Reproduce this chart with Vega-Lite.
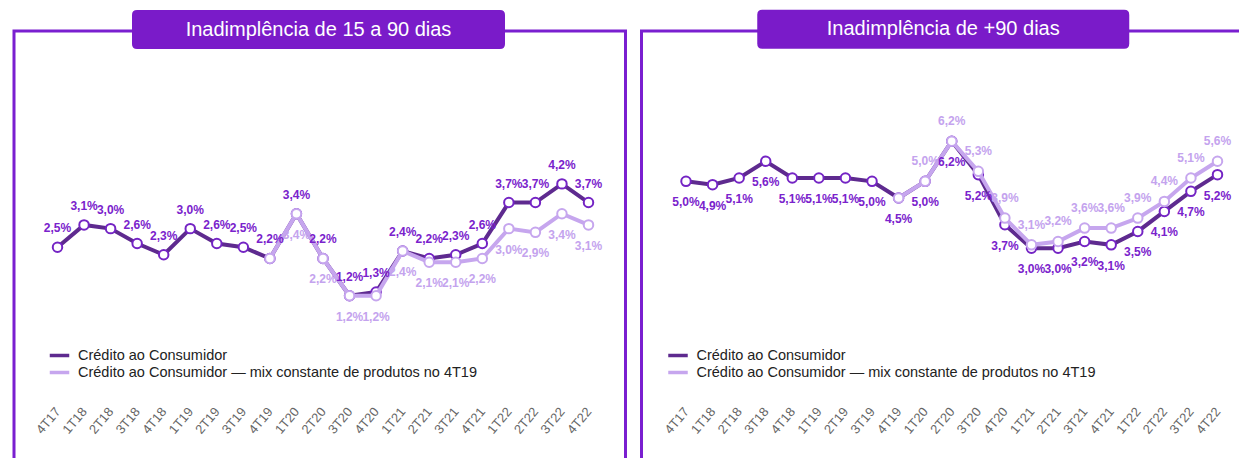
{
  "$schema": "https://vega.github.io/schema/vega-lite/v6.json",
  "padding": {"left": 12, "top": 8, "right": 0, "bottom": 0},
  "background": "white",
  "config": {
    "font": "Liberation Sans",
    "view": {"stroke": "#7A1FD0", "strokeWidth": 3},
    "locale": {"number": {"decimal": ",", "thousands": ".", "grouping": [3], "currency": ["R$", ""]}}
  },
  "resolve": {"scale": {"color": "independent", "stroke": "independent"}, "legend": {"color": "independent"}},
  "spacing": 12.5,
  "datasets": {
    "d": [
      {"panel": "A", "serie": "Crédito ao Consumidor", "quarter": "4T17", "value": 0.025},
      {"panel": "A", "serie": "Crédito ao Consumidor", "quarter": "1T18", "value": 0.031},
      {"panel": "A", "serie": "Crédito ao Consumidor", "quarter": "2T18", "value": 0.030},
      {"panel": "A", "serie": "Crédito ao Consumidor", "quarter": "3T18", "value": 0.026},
      {"panel": "A", "serie": "Crédito ao Consumidor", "quarter": "4T18", "value": 0.023},
      {"panel": "A", "serie": "Crédito ao Consumidor", "quarter": "1T19", "value": 0.030},
      {"panel": "A", "serie": "Crédito ao Consumidor", "quarter": "2T19", "value": 0.026},
      {"panel": "A", "serie": "Crédito ao Consumidor", "quarter": "3T19", "value": 0.025},
      {"panel": "A", "serie": "Crédito ao Consumidor", "quarter": "4T19", "value": 0.022},
      {"panel": "A", "serie": "Crédito ao Consumidor", "quarter": "1T20", "value": 0.034},
      {"panel": "A", "serie": "Crédito ao Consumidor", "quarter": "2T20", "value": 0.022},
      {"panel": "A", "serie": "Crédito ao Consumidor", "quarter": "3T20", "value": 0.012},
      {"panel": "A", "serie": "Crédito ao Consumidor", "quarter": "4T20", "value": 0.013},
      {"panel": "A", "serie": "Crédito ao Consumidor", "quarter": "1T21", "value": 0.024},
      {"panel": "A", "serie": "Crédito ao Consumidor", "quarter": "2T21", "value": 0.022},
      {"panel": "A", "serie": "Crédito ao Consumidor", "quarter": "3T21", "value": 0.023},
      {"panel": "A", "serie": "Crédito ao Consumidor", "quarter": "4T21", "value": 0.026},
      {"panel": "A", "serie": "Crédito ao Consumidor", "quarter": "1T22", "value": 0.037},
      {"panel": "A", "serie": "Crédito ao Consumidor", "quarter": "2T22", "value": 0.037},
      {"panel": "A", "serie": "Crédito ao Consumidor", "quarter": "3T22", "value": 0.042},
      {"panel": "A", "serie": "Crédito ao Consumidor", "quarter": "4T22", "value": 0.037},
      {"panel": "A", "serie": "Crédito ao Consumidor — mix constante de produtos no 4T19", "quarter": "4T19", "value": 0.022},
      {"panel": "A", "serie": "Crédito ao Consumidor — mix constante de produtos no 4T19", "quarter": "1T20", "value": 0.034},
      {"panel": "A", "serie": "Crédito ao Consumidor — mix constante de produtos no 4T19", "quarter": "2T20", "value": 0.022},
      {"panel": "A", "serie": "Crédito ao Consumidor — mix constante de produtos no 4T19", "quarter": "3T20", "value": 0.012},
      {"panel": "A", "serie": "Crédito ao Consumidor — mix constante de produtos no 4T19", "quarter": "4T20", "value": 0.012},
      {"panel": "A", "serie": "Crédito ao Consumidor — mix constante de produtos no 4T19", "quarter": "1T21", "value": 0.024},
      {"panel": "A", "serie": "Crédito ao Consumidor — mix constante de produtos no 4T19", "quarter": "2T21", "value": 0.021},
      {"panel": "A", "serie": "Crédito ao Consumidor — mix constante de produtos no 4T19", "quarter": "3T21", "value": 0.021},
      {"panel": "A", "serie": "Crédito ao Consumidor — mix constante de produtos no 4T19", "quarter": "4T21", "value": 0.022},
      {"panel": "A", "serie": "Crédito ao Consumidor — mix constante de produtos no 4T19", "quarter": "1T22", "value": 0.030},
      {"panel": "A", "serie": "Crédito ao Consumidor — mix constante de produtos no 4T19", "quarter": "2T22", "value": 0.029},
      {"panel": "A", "serie": "Crédito ao Consumidor — mix constante de produtos no 4T19", "quarter": "3T22", "value": 0.034},
      {"panel": "A", "serie": "Crédito ao Consumidor — mix constante de produtos no 4T19", "quarter": "4T22", "value": 0.031},
      {"panel": "B", "serie": "Crédito ao Consumidor", "quarter": "4T17", "value": 0.050},
      {"panel": "B", "serie": "Crédito ao Consumidor", "quarter": "1T18", "value": 0.049},
      {"panel": "B", "serie": "Crédito ao Consumidor", "quarter": "2T18", "value": 0.051},
      {"panel": "B", "serie": "Crédito ao Consumidor", "quarter": "3T18", "value": 0.056},
      {"panel": "B", "serie": "Crédito ao Consumidor", "quarter": "4T18", "value": 0.051},
      {"panel": "B", "serie": "Crédito ao Consumidor", "quarter": "1T19", "value": 0.051},
      {"panel": "B", "serie": "Crédito ao Consumidor", "quarter": "2T19", "value": 0.051},
      {"panel": "B", "serie": "Crédito ao Consumidor", "quarter": "3T19", "value": 0.050},
      {"panel": "B", "serie": "Crédito ao Consumidor", "quarter": "4T19", "value": 0.045},
      {"panel": "B", "serie": "Crédito ao Consumidor", "quarter": "1T20", "value": 0.050},
      {"panel": "B", "serie": "Crédito ao Consumidor", "quarter": "2T20", "value": 0.062},
      {"panel": "B", "serie": "Crédito ao Consumidor", "quarter": "3T20", "value": 0.052},
      {"panel": "B", "serie": "Crédito ao Consumidor", "quarter": "4T20", "value": 0.037},
      {"panel": "B", "serie": "Crédito ao Consumidor", "quarter": "1T21", "value": 0.030},
      {"panel": "B", "serie": "Crédito ao Consumidor", "quarter": "2T21", "value": 0.030},
      {"panel": "B", "serie": "Crédito ao Consumidor", "quarter": "3T21", "value": 0.032},
      {"panel": "B", "serie": "Crédito ao Consumidor", "quarter": "4T21", "value": 0.031},
      {"panel": "B", "serie": "Crédito ao Consumidor", "quarter": "1T22", "value": 0.035},
      {"panel": "B", "serie": "Crédito ao Consumidor", "quarter": "2T22", "value": 0.041},
      {"panel": "B", "serie": "Crédito ao Consumidor", "quarter": "3T22", "value": 0.047},
      {"panel": "B", "serie": "Crédito ao Consumidor", "quarter": "4T22", "value": 0.052},
      {"panel": "B", "serie": "Crédito ao Consumidor — mix constante de produtos no 4T19", "quarter": "4T19", "value": 0.045},
      {"panel": "B", "serie": "Crédito ao Consumidor — mix constante de produtos no 4T19", "quarter": "1T20", "value": 0.050},
      {"panel": "B", "serie": "Crédito ao Consumidor — mix constante de produtos no 4T19", "quarter": "2T20", "value": 0.062},
      {"panel": "B", "serie": "Crédito ao Consumidor — mix constante de produtos no 4T19", "quarter": "3T20", "value": 0.053},
      {"panel": "B", "serie": "Crédito ao Consumidor — mix constante de produtos no 4T19", "quarter": "4T20", "value": 0.039},
      {"panel": "B", "serie": "Crédito ao Consumidor — mix constante de produtos no 4T19", "quarter": "1T21", "value": 0.031},
      {"panel": "B", "serie": "Crédito ao Consumidor — mix constante de produtos no 4T19", "quarter": "2T21", "value": 0.032},
      {"panel": "B", "serie": "Crédito ao Consumidor — mix constante de produtos no 4T19", "quarter": "3T21", "value": 0.036},
      {"panel": "B", "serie": "Crédito ao Consumidor — mix constante de produtos no 4T19", "quarter": "4T21", "value": 0.036},
      {"panel": "B", "serie": "Crédito ao Consumidor — mix constante de produtos no 4T19", "quarter": "1T22", "value": 0.039},
      {"panel": "B", "serie": "Crédito ao Consumidor — mix constante de produtos no 4T19", "quarter": "2T22", "value": 0.044},
      {"panel": "B", "serie": "Crédito ao Consumidor — mix constante de produtos no 4T19", "quarter": "3T22", "value": 0.051},
      {"panel": "B", "serie": "Crédito ao Consumidor — mix constante de produtos no 4T19", "quarter": "4T22", "value": 0.056}
    ]
  },
  "hconcat": [
    {
      "width": 611.5,
      "height": 440,
      "encoding": {
        "x": {
          "field": "quarter", "type": "ordinal",
          "scale": {"type": "point", "padding": 0, "range": [43.5, 574.5],
            "domain": ["4T17","1T18","2T18","3T18","4T18","1T19","2T19","3T19","4T19","1T20","2T20","3T20","4T20","1T21","2T21","3T21","4T21","1T22","2T22","3T22","4T22"]},
          "axis": {"title": null, "labelAngle": -50, "labelAlign": "right", "labelBaseline": "middle", "labelFontSize": 13, "labelColor": "#666666", "domain": false, "ticks": false, "grid": false, "labelPadding": 0, "offset": -62}
        }
      },
      "layer": [
        {
          "data": {"name": "d"},
          "transform": [{"filter": "datum.panel === 'A' && datum.serie === 'Crédito ao Consumidor'"}],
          "mark": {"type": "line", "strokeWidth": 4},
          "encoding": {
            "y": {"field": "value", "type": "quantitative", "scale": {"domain": [-0.035, 0.083], "nice": false, "zero": false}, "axis": null},
            "color": {"field": "serie", "type": "nominal",
              "scale": {"domain": ["Crédito ao Consumidor", "Crédito ao Consumidor — mix constante de produtos no 4T19"], "range": ["#5E2A8F", "#C6A6EE"]},
              "legend": {"title": null, "orient": "none", "legendX": 36, "legendY": 315, "symbolType": "M -1.3 0 L 1.3 0", "symbolSize": 225, "symbolStrokeWidth": 3.5, "labelFontSize": 14.5, "labelColor": "#222222", "rowPadding": 0, "labelOffset": 9, "labelLimit": 600}}
          }
        },
        {
          "data": {"name": "d"},
          "transform": [{"filter": "datum.panel === 'A' && datum.serie === 'Crédito ao Consumidor'"}],
          "mark": {"type": "point", "filled": false, "fill": "white", "strokeWidth": 2, "size": 90, "opacity": 1},
          "encoding": {
            "y": {"field": "value", "type": "quantitative"},
            "stroke": {"field": "serie", "type": "nominal", "scale": {"domain": ["Crédito ao Consumidor", "Crédito ao Consumidor — mix constante de produtos no 4T19"], "range": ["#7424C4", "#C6A6EE"]}, "legend": null}
          }
        },
        {
          "data": {"name": "d"},
          "transform": [{"filter": "datum.panel === 'A' && datum.serie !== 'Crédito ao Consumidor'"}],
          "mark": {"type": "line", "strokeWidth": 4},
          "encoding": {
            "y": {"field": "value", "type": "quantitative"},
            "color": {"field": "serie", "type": "nominal"}
          }
        },
        {
          "data": {"name": "d"},
          "transform": [{"filter": "datum.panel === 'A' && datum.serie !== 'Crédito ao Consumidor'"}],
          "mark": {"type": "point", "filled": false, "fill": "white", "strokeWidth": 2, "size": 90, "opacity": 1},
          "encoding": {
            "y": {"field": "value", "type": "quantitative"},
            "stroke": {"field": "serie", "type": "nominal", "legend": null}
          }
        },
        {
          "data": {"name": "d"},
          "transform": [{"filter": "datum.panel === 'A' && datum.serie === 'Crédito ao Consumidor'"}],
          "mark": {"type": "text", "dy": -19, "fontSize": 12, "fontWeight": "bold", "color": "#7A22CC"},
          "encoding": {
            "y": {"field": "value", "type": "quantitative"},
            "text": {"field": "value", "type": "quantitative", "format": ".1%"}
          }
        },
        {
          "data": {"name": "d"},
          "transform": [{"filter": "datum.panel === 'A' && datum.serie !== 'Crédito ao Consumidor' && datum.quarter !== '4T19'"}],
          "mark": {"type": "text", "dy": 21, "fontSize": 12, "fontWeight": "bold", "color": "#C4A3EE"},
          "encoding": {
            "y": {"field": "value", "type": "quantitative"},
            "text": {"field": "value", "type": "quantitative", "format": ".1%"}
          }
        },
        {
          "data": {"values": [{"t": "Inadimplência de 15 a 90 dias"}]},
          "mark": {"type": "point", "shape": "M -0.9732 -0.1046 L 0.9732 -0.1046 Q 1 -0.1046 1 -0.0778 L 1 0.0778 Q 1 0.1046 0.9732 0.1046 L -0.9732 0.1046 Q -1 0.1046 -1 0.0778 L -1 -0.0778 Q -1 -0.1046 -0.9732 -0.1046 Z", "size": 139129, "filled": true, "color": "#7A1BC9", "opacity": 1, "strokeWidth": 0, "xOffset": -4.5},
          "encoding": {
            "x": {"datum": "2T20"},
            "y": {"datum": 0.0834, "type": "quantitative"}
          }
        },
        {
          "data": {"values": [{"t": "Inadimplência de 15 a 90 dias"}]},
          "mark": {"type": "text", "fontSize": 20, "color": "white", "xOffset": -4.5, "baseline": "middle"},
          "encoding": {
            "x": {"datum": "2T20"},
            "y": {"datum": 0.0834, "type": "quantitative"},
            "text": {"field": "t"}
          }
        }
      ]
    },
    {
      "width": 611.5,
      "height": 440,
      "encoding": {
        "x": {
          "field": "quarter", "type": "ordinal",
          "scale": {"type": "point", "padding": 0, "range": [44.5, 576],
            "domain": ["4T17","1T18","2T18","3T18","4T18","1T19","2T19","3T19","4T19","1T20","2T20","3T20","4T20","1T21","2T21","3T21","4T21","1T22","2T22","3T22","4T22"]},
          "axis": {"title": null, "labelAngle": -50, "labelAlign": "right", "labelBaseline": "middle", "labelFontSize": 13, "labelColor": "#666666", "domain": false, "ticks": false, "grid": false, "labelPadding": 0, "offset": -62}
        }
      },
      "layer": [
        {
          "data": {"name": "d"},
          "transform": [{"filter": "datum.panel === 'B' && datum.serie === 'Crédito ao Consumidor'"}],
          "mark": {"type": "line", "strokeWidth": 4},
          "encoding": {
            "y": {"field": "value", "type": "quantitative", "scale": {"domain": [-0.0367, 0.095], "nice": false, "zero": false}, "axis": null},
            "color": {"field": "serie", "type": "nominal",
              "scale": {"domain": ["Crédito ao Consumidor", "Crédito ao Consumidor — mix constante de produtos no 4T19"], "range": ["#5E2A8F", "#C6A6EE"]},
              "legend": {"title": null, "orient": "none", "legendX": 27, "legendY": 315, "symbolType": "M -1.3 0 L 1.3 0", "symbolSize": 225, "symbolStrokeWidth": 3.5, "labelFontSize": 14.5, "labelColor": "#222222", "rowPadding": 0, "labelOffset": 9, "labelLimit": 600}}
          }
        },
        {
          "data": {"name": "d"},
          "transform": [{"filter": "datum.panel === 'B' && datum.serie === 'Crédito ao Consumidor'"}],
          "mark": {"type": "point", "filled": false, "fill": "white", "strokeWidth": 2, "size": 90, "opacity": 1},
          "encoding": {
            "y": {"field": "value", "type": "quantitative"},
            "stroke": {"field": "serie", "type": "nominal", "scale": {"domain": ["Crédito ao Consumidor", "Crédito ao Consumidor — mix constante de produtos no 4T19"], "range": ["#7424C4", "#C6A6EE"]}, "legend": null}
          }
        },
        {
          "data": {"name": "d"},
          "transform": [{"filter": "datum.panel === 'B' && datum.serie !== 'Crédito ao Consumidor'"}],
          "mark": {"type": "line", "strokeWidth": 4},
          "encoding": {
            "y": {"field": "value", "type": "quantitative"},
            "color": {"field": "serie", "type": "nominal"}
          }
        },
        {
          "data": {"name": "d"},
          "transform": [{"filter": "datum.panel === 'B' && datum.serie !== 'Crédito ao Consumidor'"}],
          "mark": {"type": "point", "filled": false, "fill": "white", "strokeWidth": 2, "size": 90, "opacity": 1},
          "encoding": {
            "y": {"field": "value", "type": "quantitative"},
            "stroke": {"field": "serie", "type": "nominal", "legend": null}
          }
        },
        {
          "data": {"name": "d"},
          "transform": [{"filter": "datum.panel === 'B' && datum.serie === 'Crédito ao Consumidor'"}],
          "mark": {"type": "text", "dy": 21, "fontSize": 12, "fontWeight": "bold", "color": "#7A22CC"},
          "encoding": {
            "y": {"field": "value", "type": "quantitative"},
            "text": {"field": "value", "type": "quantitative", "format": ".1%"}
          }
        },
        {
          "data": {"name": "d"},
          "transform": [{"filter": "datum.panel === 'B' && datum.serie !== 'Crédito ao Consumidor' && datum.quarter !== '4T19'"}],
          "mark": {"type": "text", "dy": -20, "fontSize": 12, "fontWeight": "bold", "color": "#C4A3EE"},
          "encoding": {
            "y": {"field": "value", "type": "quantitative"},
            "text": {"field": "value", "type": "quantitative", "format": ".1%"}
          }
        },
        {
          "data": {"values": [{"t": "Inadimplência de +90 dias"}]},
          "mark": {"type": "point", "shape": "M -0.9732 -0.1046 L 0.9732 -0.1046 Q 1 -0.1046 1 -0.0778 L 1 0.0778 Q 1 0.1046 0.9732 0.1046 L -0.9732 0.1046 Q -1 0.1046 -1 0.0778 L -1 -0.0778 Q -1 -0.1046 -0.9732 -0.1046 Z", "size": 138384, "filled": true, "color": "#7A1BC9", "opacity": 1, "strokeWidth": 0, "xOffset": -8.5},
          "encoding": {
            "x": {"datum": "2T20"},
            "y": {"datum": 0.0955, "type": "quantitative"}
          }
        },
        {
          "data": {"values": [{"t": "Inadimplência de +90 dias"}]},
          "mark": {"type": "text", "fontSize": 20, "color": "white", "xOffset": -8.5, "baseline": "middle"},
          "encoding": {
            "x": {"datum": "2T20"},
            "y": {"datum": 0.0955, "type": "quantitative"},
            "text": {"field": "t"}
          }
        }
      ]
    }
  ]
}
